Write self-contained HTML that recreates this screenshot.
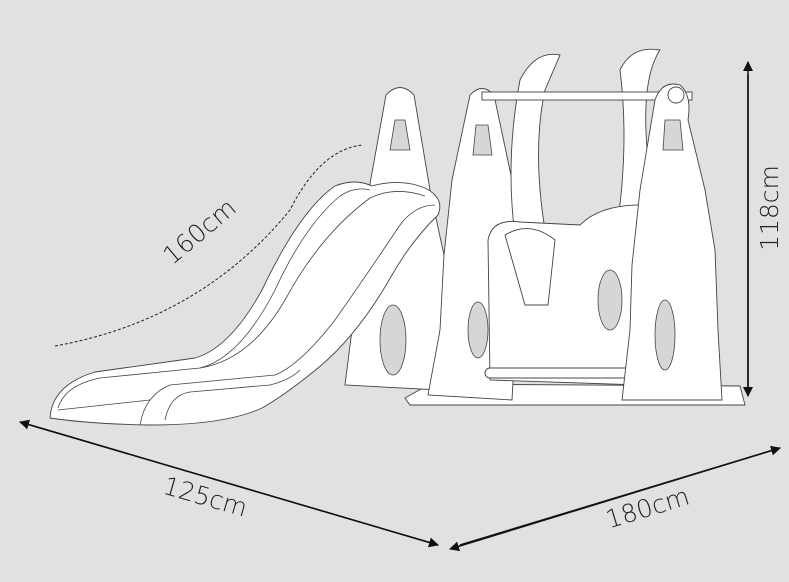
<!DOCTYPE html>
<html><head><style>
html,body{margin:0;padding:0;background:#e1e1e1;}
svg{display:block;}
text{font-family:"DejaVu Sans","Liberation Sans",sans-serif;font-weight:200;fill:#222;font-size:25px;}
</style></head><body>
<svg width="789" height="582" viewBox="0 0 789 582">
<rect width="789" height="582" fill="#e1e1e1"/>
<defs>
<marker id="a" markerWidth="10" markerHeight="10" refX="9" refY="5" orient="auto" markerUnits="userSpaceOnUse"><path d="M0,0 L10,5 L0,10 z" fill="#111"/></marker>
</defs>
<g fill="#fff" stroke="#444" stroke-width="0.9">
<path d="M405,398 L430,384 L740,386 L745,405 L410,405 z"/>
<path d="M345,385 L352,330 L358,255 L368,195 L386,95 Q400,80 414,95 L430,190 L445,260 L440,390 z"/>
<path d="M428,395 L440,330 L444,255 L452,180 L470,95 Q482,82 494,95 L512,180 L520,250 L512,400 z"/>
<path d="M515,235 Q505,160 520,80 Q535,50 560,55 L545,90 Q532,150 545,230 z"/>
<path d="M615,240 Q630,150 620,70 Q632,45 660,50 Q640,80 648,160 L645,250 z"/>
<rect x="482" y="92" width="210" height="8"/>
<path d="M490,380 L488,240 Q492,218 520,222 L580,225 Q600,205 640,205 L640,385 z"/>
<path d="M505,235 Q530,220 555,240 L548,305 L525,305 z"/>
<rect x="485" y="368" width="150" height="10" rx="5"/>
<path d="M622,400 L630,330 L632,265 L640,190 L655,100 Q662,80 680,85 Q692,95 688,120 L705,190 L715,250 L718,330 L722,400 z"/>
<circle cx="676" cy="95" r="8"/>
<!-- slide -->
<path d="M50,418 Q52,385 95,372 L195,358 Q230,348 262,290 Q300,210 335,186 Q355,178 372,186 Q400,178 425,188 Q445,198 438,215 Q412,240 392,275 Q358,335 318,368 Q285,395 262,408 Q225,425 150,425 Q90,424 50,418 z"/>
</g>
<g fill="none" stroke="#444" stroke-width="0.8">
<path d="M58,408 Q65,385 100,378 L200,368 Q240,358 275,290 Q305,225 340,196 Q355,186 370,190"/>
<path d="M200,368 Q250,360 285,300 Q320,235 370,198 Q395,186 425,196"/>
<path d="M140,425 Q145,395 170,385 L275,375 Q300,365 335,320 Q370,270 400,225 Q415,205 435,205"/>
<path d="M165,420 Q170,395 190,392 L270,385 Q290,380 300,370"/>
<path d="M58,410 L150,400"/>
</g>
<g fill="#d6d6d6" stroke="#444" stroke-width="0.8">
<path d="M395,120 L405,120 L410,150 L390,150 z"/>
<path d="M476,125 L488,125 L492,155 L473,155 z"/>
<path d="M665,120 L680,120 L683,150 L663,150 z"/>
<ellipse cx="393" cy="340" rx="13" ry="35"/>
<ellipse cx="478" cy="330" rx="10" ry="28"/>
<ellipse cx="665" cy="335" rx="10" ry="35"/>
<ellipse cx="610" cy="300" rx="12" ry="30"/>
</g>
<path d="M55,346 Q200,320 290,210 Q320,150 362,145" fill="none" stroke="#222" stroke-width="1" stroke-dasharray="3,2"/>
<g stroke="#111" stroke-width="1.5" fill="none">
<line x1="748" y1="75" x2="748" y2="396" marker-end="url(#a)"/>
<line x1="748" y1="396" x2="748" y2="62" marker-end="url(#a)"/>
<line x1="30" y1="425" x2="438" y2="545" marker-end="url(#a)"/>
<line x1="438" y1="545" x2="20" y2="422" marker-end="url(#a)"/>
<line x1="460" y1="545" x2="780" y2="448" marker-end="url(#a)"/>
<line x1="780" y1="448" x2="450" y2="549" marker-end="url(#a)"/>
</g>
<text transform="translate(205,238) rotate(-40)" text-anchor="middle">160cm</text>
<text transform="translate(778,208) rotate(-90)" text-anchor="middle">118cm</text>
<text transform="translate(203,505) rotate(16)" text-anchor="middle">125cm</text>
<text transform="translate(650,516) rotate(-17)" text-anchor="middle">180cm</text>
</svg>
</body></html>
